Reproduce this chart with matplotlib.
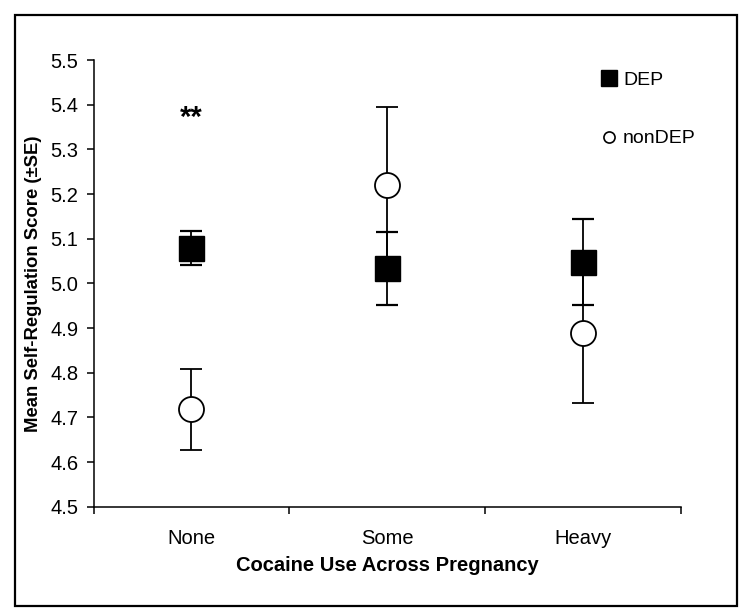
import matplotlib.pyplot as plt
import numpy as np
from matplotlib.lines import Line2D
from matplotlib.patches import Rectangle

plt.rcParams['font.family'] = ['Liberation Sans', 'DejaVu Sans']

# Data.
categories = ['None', 'Some', 'Heavy']
dep_mean = [5.08, 5.034, 5.048]
dep_se = [0.038, 0.082, 0.096]
nondep_mean = [4.718, 5.221, 4.888]
nondep_se = [0.09, 0.174, 0.155]
yticks = [4.5, 4.6, 4.7, 4.8, 4.9, 5.0, 5.1, 5.2, 5.3, 5.4, 5.5]
sig_label = '**'
sig_pos = (0, 5.352)

x = np.arange(len(categories))

fig = plt.figure(figsize=(7.5, 6.13), dpi=100)
ax = fig.add_axes([0.1247, 0.1734, 0.9080 - 0.1247, 0.9021 - 0.1734])

# nonDEP first so the DEP squares sit on top of the overlapping bars.
ax.errorbar(x, nondep_mean, yerr=nondep_se, fmt='o', color='black',
            mfc='white', mec='black', mew=1.3, ms=18, elinewidth=1.3,
            capsize=8, capthick=1.6, zorder=3)
ax.errorbar(x, dep_mean, yerr=dep_se, fmt='s', color='black',
            mfc='black', mec='black', ms=18, elinewidth=1.3,
            capsize=8, capthick=1.6, zorder=4)

ax.text(sig_pos[0], sig_pos[1], sig_label, ha='center', va='baseline',
        fontsize=21, fontweight='bold')

ax.set_xlim(-0.5, 2.5)
ax.set_ylim(4.5, 5.5)
ax.set_yticks(yticks)
ax.set_yticklabels(['%.1f' % v for v in yticks])
ax.set_xticks([-0.5, 0.5, 1.5, 2.5])
ax.set_xticklabels([])
ax.set_xticks(x, minor=True)
ax.set_xticklabels(categories, minor=True)
ax.tick_params(axis='x', which='major', length=5, width=1.1, direction='out')
ax.tick_params(axis='x', which='minor', length=0, labelsize=14.5, pad=16)
ax.tick_params(axis='y', length=5, width=1.1, labelsize=14.5, pad=6)

for side in ['top', 'right']:
    ax.spines[side].set_visible(False)
for side in ['left', 'bottom']:
    ax.spines[side].set_linewidth(1.1)

ax.set_xlabel('Cocaine Use Across Pregnancy', fontsize=14.5,
              fontweight='bold', labelpad=6)
ax.set_ylabel('Mean Self-Regulation Score (\u00b1SE)', fontsize=13.3,
              fontweight='bold', labelpad=6)

handles = [
    Line2D([], [], marker='s', ls='none', mfc='black', mec='black', ms=11),
    Line2D([], [], marker='o', ls='none', mfc='white', mec='black', ms=8,
           mew=1.2),
]
ax.legend(handles, ['DEP', 'nonDEP'], loc='upper right',
          bbox_to_anchor=(1.055, 1.014), frameon=False, fontsize=14,
          labelspacing=2.1, handlelength=0.8, handletextpad=0.3)

# Outer frame around the whole figure.
fig.patches.append(Rectangle((15 / 750, 1 - 606 / 613), 722 / 750, 591 / 613,
                             transform=fig.transFigure, fill=False,
                             lw=1.6, ec='black'))

fig.savefig('out.png', dpi=100)
